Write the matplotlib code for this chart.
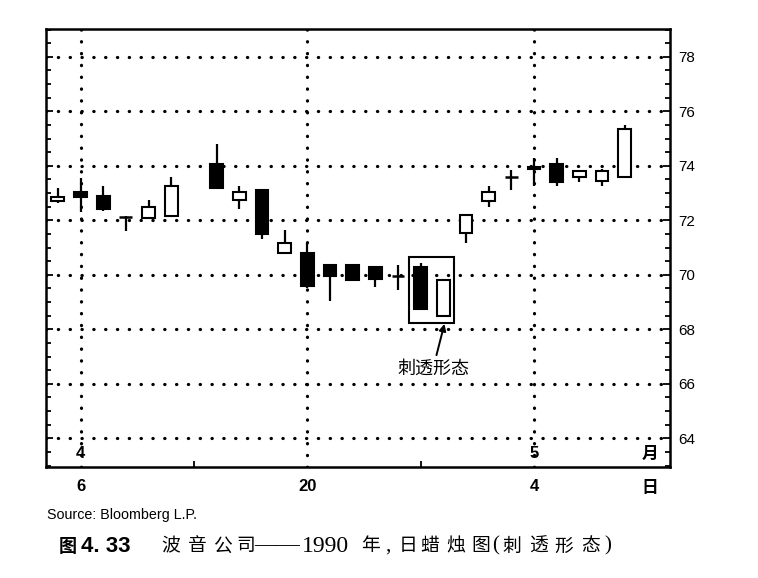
import matplotlib
matplotlib.use("Agg")
import matplotlib.pyplot as plt
from matplotlib.patches import Rectangle
import numpy as np
import pandas as pd

plt.rcParams['font.family'] = ['Liberation Sans', 'Noto Sans CJK SC', 'DejaVu Sans']

# Boeing daily prices, April-May 1990 (Good Friday 13 April: market closed)
dates = ["1990-04-05", "1990-04-06", "1990-04-09", "1990-04-10", "1990-04-11",
         "1990-04-12", "1990-04-16", "1990-04-17", "1990-04-18", "1990-04-19",
         "1990-04-20", "1990-04-23", "1990-04-24", "1990-04-25", "1990-04-26",
         "1990-04-27", "1990-04-30", "1990-05-01", "1990-05-02", "1990-05-03",
         "1990-05-04", "1990-05-07", "1990-05-08", "1990-05-09", "1990-05-10"]
opens = [72.70, 73.05, 72.90, 72.12, 72.10, 72.15, 74.05, 72.75, 73.10, 70.80,
         70.80, 70.35, 70.35, 70.30, 69.95, 70.30, 68.50, 71.55, 72.70, 73.60,
         73.90, 74.05, 73.60, 73.45, 73.60]
highs = [73.20, 73.55, 73.25, 72.15, 72.75, 73.60, 74.80, 73.25, 73.10, 71.65,
         71.15, 70.35, 70.35, 70.30, 70.35, 70.45, 69.80, 72.20, 73.25, 73.85,
         74.30, 74.30, 73.80, 73.90, 75.50]
lows = [72.65, 72.30, 72.35, 71.60, 72.05, 72.15, 73.20, 72.40, 71.30, 70.80,
        69.50, 69.05, 69.80, 69.55, 69.45, 68.75, 68.50, 71.15, 72.50, 73.10,
        73.25, 73.25, 73.40, 73.25, 73.60]
closes = [72.85, 72.85, 72.40, 72.12, 72.50, 73.25, 73.20, 73.05, 71.50, 71.15,
          69.60, 69.95, 69.80, 69.85, 69.95, 68.75, 69.80, 72.20, 73.05, 73.60,
          73.95, 73.40, 73.80, 73.80, 75.35]

price_ticks = [64, 66, 68, 70, 72, 74, 76, 78]
month_labels = {"1990-04-06": "4", "1990-05-04": "5"}
day_labels = {"1990-04-06": "6", "1990-04-20": "20", "1990-05-04": "4"}
pattern_label = "刺透形态"
source_text = "Source: Bloomberg L.P."
caption_num = ["图", "4. 33"]
caption_parts = ["波", "音", "公", "司", "——", "1990", "年", ",", "日", "蜡", "烛",
                 "图", "(", "刺", "透", "形", "态", ")"]

# x position = business-day index, so the holiday leaves an empty slot
d = pd.to_datetime(dates)
bdays = pd.bdate_range(d[0], d[-1])
slot = {day: i for i, day in enumerate(bdays)}
xs = np.array([slot[day] for day in d])
holidays = [i for i, day in enumerate(bdays) if day not in set(d)]

W, H = 758, 578
fig = plt.figure(figsize=(W / 100, H / 100), dpi=100)
ax = fig.add_axes([0.0603, 0.1926, 0.8236, 0.7572])

width = 0.57
for x, o, h, l, c in zip(xs, opens, highs, lows, closes):
    ax.plot([x, x], [l, h], color="black", lw=1.6, solid_capstyle="butt", zorder=3)
    bottom = min(o, c)
    height = abs(c - o)
    face = "black" if c < o else "white"
    if height < 0.03:
        ax.plot([x - width / 2, x + width / 2], [o, o], color="black", lw=1.8,
                solid_capstyle="butt", zorder=4)
    else:
        ax.add_patch(Rectangle((x - width / 2, bottom), width, height,
                               facecolor=face, edgecolor="black", lw=1.5, zorder=4))

# dotted grid
dot = dict(color="black", lw=2.3, linestyle=(0, (0.1, 3.6)),
           dash_capstyle="round", zorder=1)
for p in price_ticks:
    ax.axhline(p, **dot)
grid_x = [slot[pd.Timestamp(k)] for k in day_labels]
for gx in grid_x:
    ax.axvline(gx, **dot)

ax.set_xlim(-0.54, 27.0)
ax.set_ylim(62.96, 79.02)

# right-hand price axis
ax.yaxis.tick_right()
ax.set_yticks(price_ticks)
ax.set_yticks(np.arange(63, 79.01, 0.5), minor=True)
ax.tick_params(axis="y", which="both", direction="in", left=True, right=True,
               labelleft=False, labelright=True, width=1.3)
ax.tick_params(axis="y", which="major", length=5, labelsize=11, pad=6)
ax.tick_params(axis="y", which="minor", length=3.5)

ax.set_xticks(grid_x)
ax.set_xticklabels([day_labels[k] for k in day_labels], fontsize=12,
                   fontweight="bold")
ax.set_xticks([h for h in holidays] + [16], minor=True)
ax.tick_params(axis="x", which="major", length=0, pad=9)
ax.tick_params(axis="x", which="minor", direction="in", length=4, width=1.3)

for sp in ax.spines.values():
    sp.set_linewidth(1.8)

for k, lab in month_labels.items():
    ax.annotate(lab, (slot[pd.Timestamp(k)], 0), xycoords=("data", "axes fraction"),
                xytext=(0, 4), textcoords="offset points", ha="center", va="bottom",
                fontsize=12, fontweight="bold")
ax.annotate("月", (26.1, 0), xycoords=("data", "axes fraction"), xytext=(0, 3),
            textcoords="offset points", ha="center", va="bottom", fontsize=12,
            fontweight="bold", family=["Noto Sans CJK SC"])
ax.annotate("日", (26.1, 0), xycoords=("data", "axes fraction"), xytext=(0, -9),
            textcoords="offset points", ha="center", va="top", fontsize=12,
            fontweight="bold", family=["Noto Sans CJK SC"])

# box around the piercing pattern
i0 = list(xs).index(slot[pd.Timestamp("1990-04-30")])
box_lo = min(lows[i0 - 1:i0 + 1]) - 0.25
box_hi = max(highs[i0 - 1:i0 + 1]) + 0.22
ax.add_patch(Rectangle((xs[i0 - 1] - 0.52, box_lo), 1.99, box_hi - box_lo,
                       facecolor="none", edgecolor="black", lw=1.5, zorder=5))
ax.annotate(pattern_label, xy=(xs[i0] + 0.05, box_lo - 0.05),
            xytext=(xs[i0] - 0.45, 66.57), ha="center", va="center",
            fontsize=13, family=["Noto Sans CJK SC"],
            arrowprops=dict(arrowstyle="-|>", color="black", lw=1.4,
                            mutation_scale=10, shrinkA=1, shrinkB=0))

# source line and figure caption (caption glyphs spaced like typeset text)
fig.text(47 / W, 1 - 515 / H, source_text, fontsize=10.3, ha="left", va="center")
cap_y = 1 - 546 / H
fig.text(59 / W, cap_y, caption_num[0], fontsize=13, fontweight="bold",
         ha="left", va="center", family=["Noto Sans CJK SC"])
fig.text(81 / W, cap_y, caption_num[1], fontsize=16, fontweight="bold",
         ha="left", va="center", family=["Liberation Sans"])
part_x = [161, 188, 213, 236, 254, 302, 361, 385, 399, 420, 446, 471, 492, 502,
          529, 554, 581, 604]
for s, px in zip(caption_parts, part_x):
    if s in ("1990", "——", ",", "(", ")"):
        size = {"1990": 17, "——": 16.5, ",": 15, "(": 15, ")": 15}[s]
        fam = ["Liberation Serif"]
    else:
        size, fam = 13.5, ["Noto Sans CJK SC"]
    fig.text(px / W, cap_y, s, fontsize=size, ha="left", va="center", family=fam)

fig.savefig("out.png", dpi=100)
